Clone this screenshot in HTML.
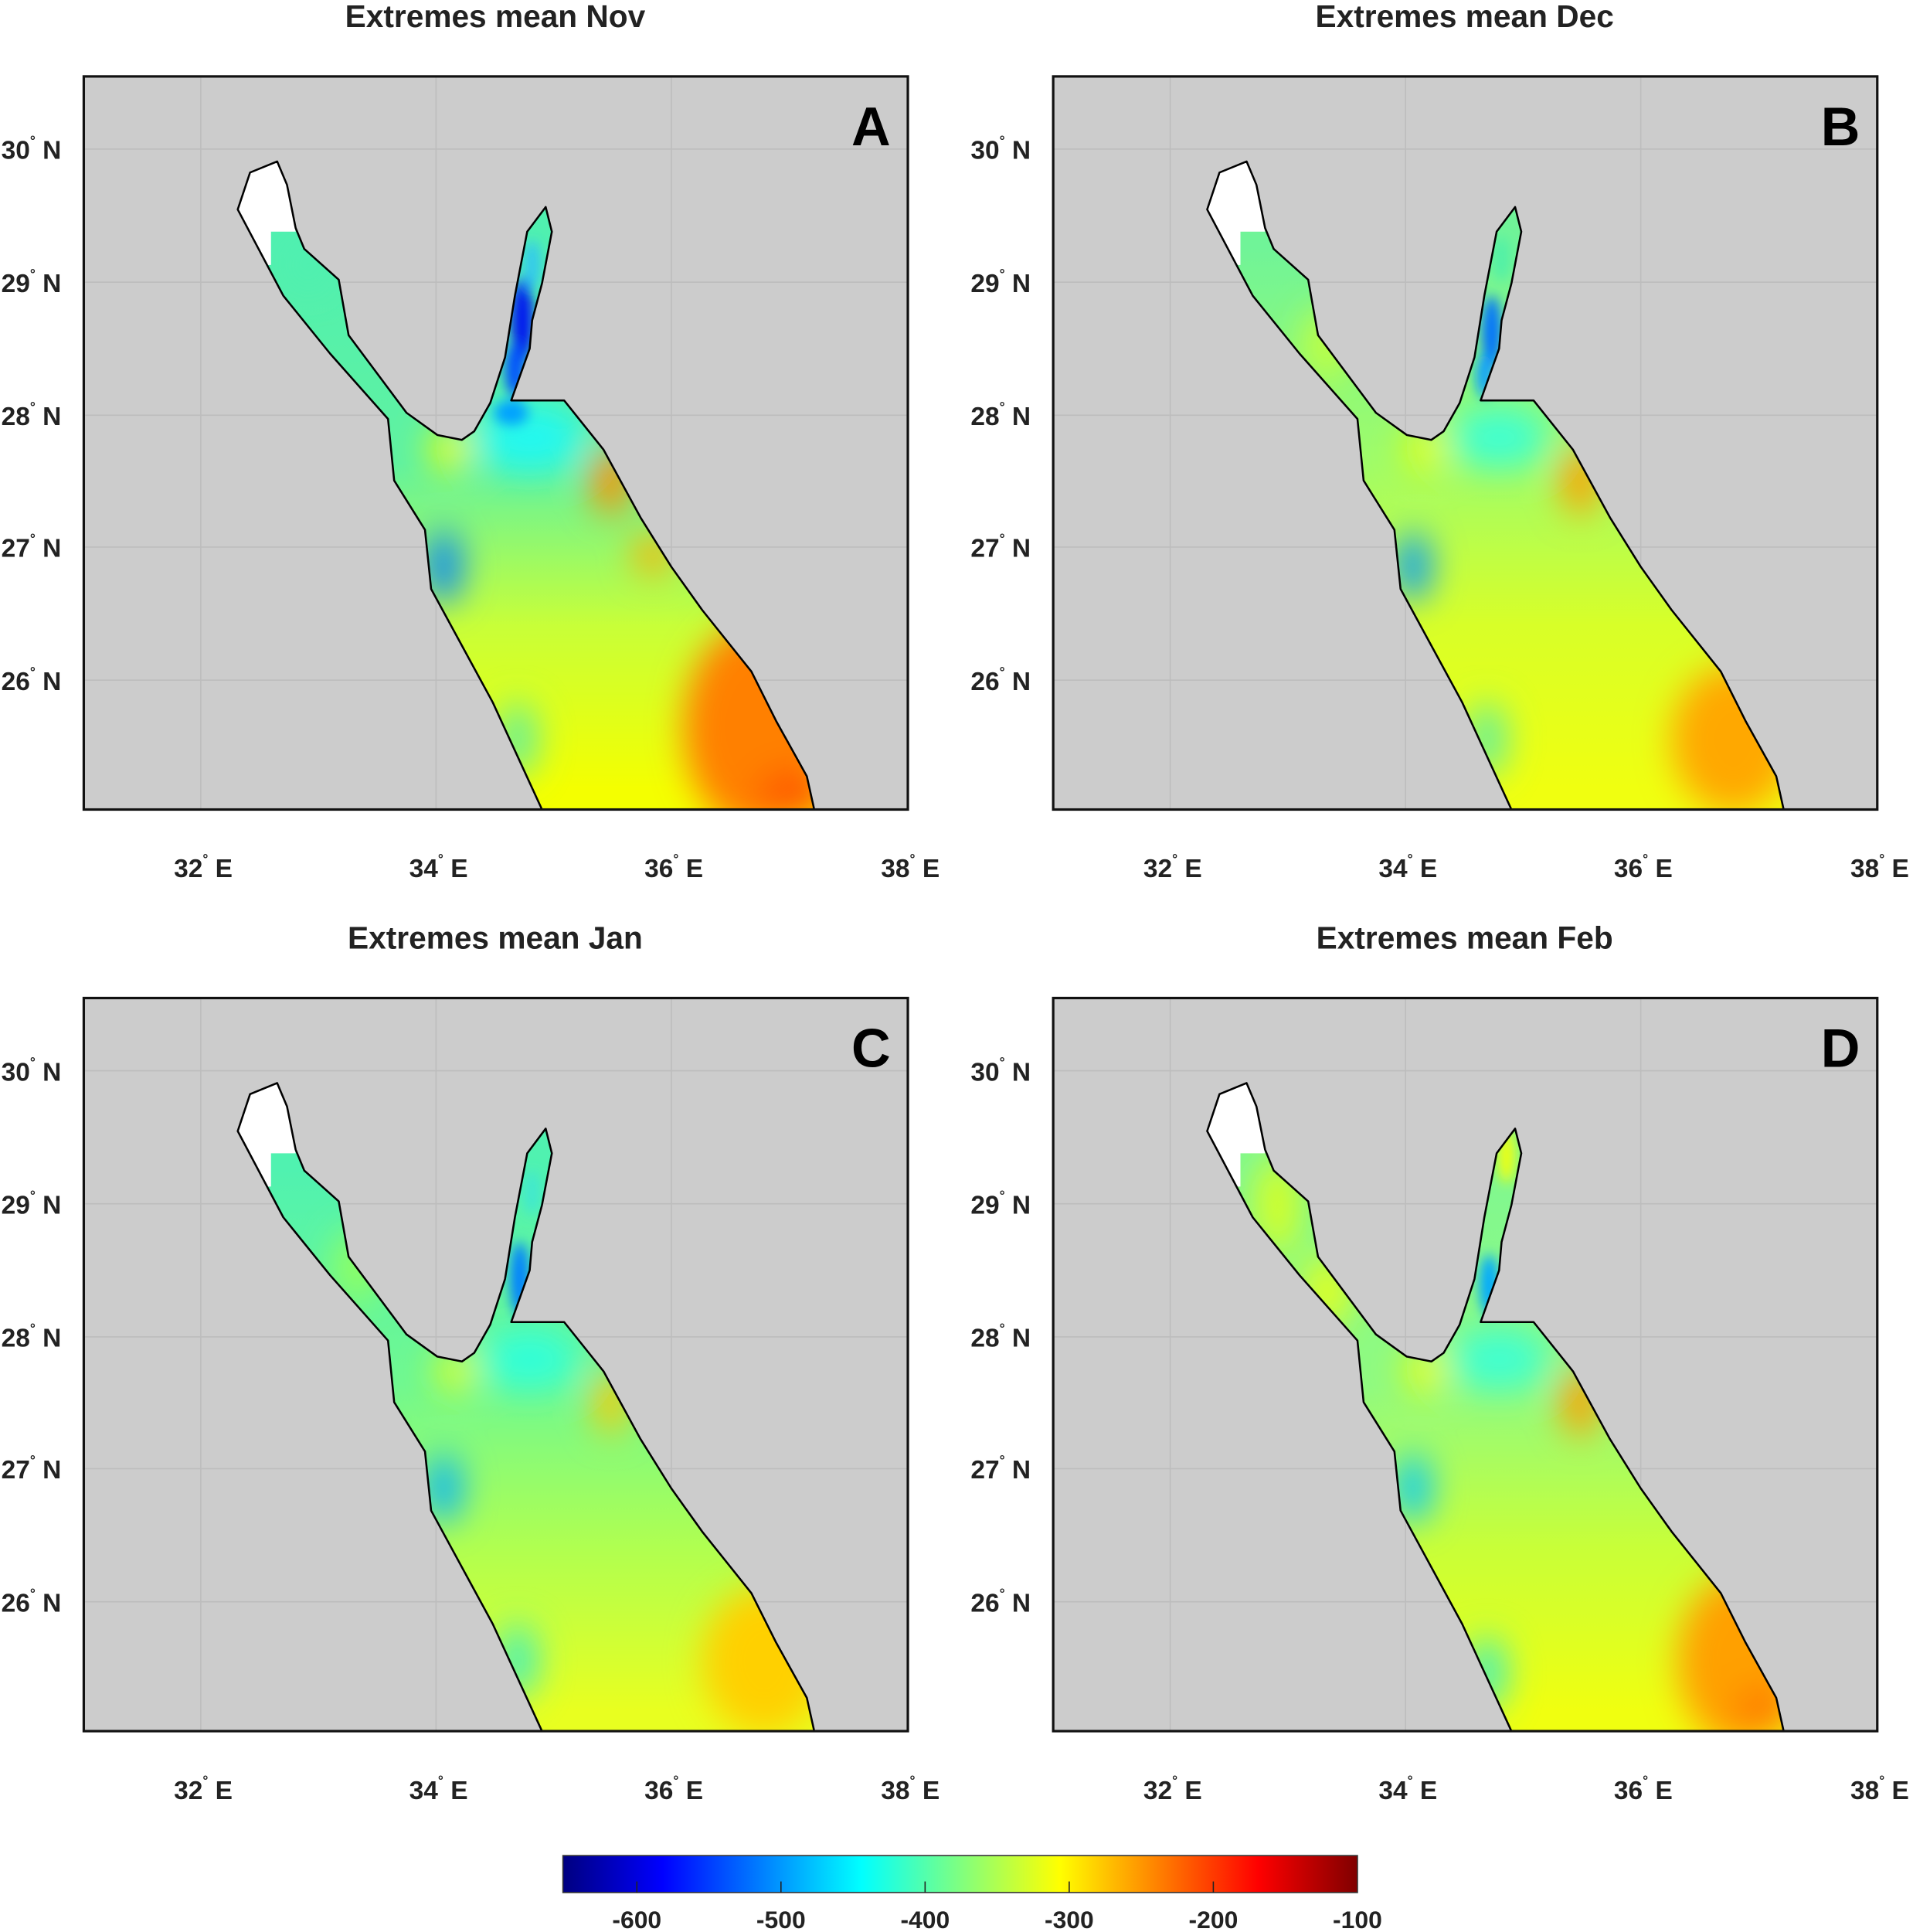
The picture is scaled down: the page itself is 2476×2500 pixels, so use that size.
<!DOCTYPE html>
<html><head><meta charset="utf-8">
<style>
html,body{margin:0;padding:0;background:#fff;}
svg{display:block;}
text{font-family:"Liberation Sans",Arial,sans-serif;font-weight:bold;fill:#222;}
</style></head>
<body>
<svg id="s" width="2476" height="2500" viewBox="0 0 1553 1568" xmlns="http://www.w3.org/2000/svg">
<defs>
<linearGradient id="jet" x1="0" x2="1" y1="0" y2="0">
<stop offset="0" stop-color="#000080"/><stop offset="0.125" stop-color="#0000ff"/>
<stop offset="0.375" stop-color="#00ffff"/><stop offset="0.625" stop-color="#ffff00"/>
<stop offset="0.875" stop-color="#ff0000"/><stop offset="1" stop-color="#800000"/>
</linearGradient>
<filter id="bl" x="-50%" y="-50%" width="200%" height="200%"><feGaussianBlur stdDeviation="14"/></filter>
<filter id="bl2" x="-50%" y="-50%" width="200%" height="200%"><feGaussianBlur stdDeviation="5"/></filter>
</defs>
<rect x="457" y="1506" width="645" height="30" fill="url(#jet)" stroke="#333" stroke-width="1"/>
<g font-size="20" text-anchor="middle">
<text x="517" y="1565">-600</text><text x="634" y="1565">-500</text><text x="751" y="1565">-400</text>
<text x="868" y="1565">-300</text><text x="985" y="1565">-200</text><text x="1102" y="1565">-100</text>
</g>
<g stroke="#222" stroke-width="1">
<line x1="517" y1="1527" x2="517" y2="1536"/><line x1="634" y1="1527" x2="634" y2="1536"/><line x1="751" y1="1527" x2="751" y2="1536"/><line x1="868" y1="1527" x2="868" y2="1536"/><line x1="985" y1="1527" x2="985" y2="1536"/>
</g>
</svg>
<script>
const S=document.getElementById('s');
const shape="M193,170 L203,140 L225,131 L233,150 L240,185 L247,202 L275,227 L283,272 L330,335 L355,353 L375,357 L385,350 L398,327 L410,290 L418,240 L428,188 L443,168 L448,188 L440,230 L432,260 L430,283 L415,325 L458,325 L490,365 L520,420 L545,460 L570,495 L610,545 L630,585 L655,630 L661,657 L440,657 L400,570 L350,478 L345,430 L320,390 L315,340 L268,287 L230,240 Z";
const whiteP="M193,170 L203,140 L225,131 L233,150 L240,188 L220,188 L220,215 L210,215 Z";
const panels=[
 {dx:0,dy:0,t:"Extremes mean Nov",L:"A",grad:["#50f0b0","#60f2a0","#c8ff38","#f4ff00"],
  blobs:[[430,355,45,28,"#20f8f0"],[360,460,14,30,"#0080ff"],[496,390,16,28,"#ff9000"],[530,450,16,16,"#ffb000"],[615,590,60,85,"#ff8000"],[645,645,30,20,"#ff5a00"],[365,365,16,18,"#f4ff00"],[420,600,16,30,"#60f0a0"],[250,215,14,20,"#50f0b0"]],
  sharp:[[424,260,9,35,"#0018f0"],[418,300,8,22,"#0050ff"],[432,215,7,20,"#30c8f0"],[415,335,14,10,"#00a0ff"]]},
 {dx:787,dy:0,t:"Extremes mean Dec",L:"B",grad:["#70f498","#a0fc68","#d8ff28","#f0ff10"],
  blobs:[[430,355,40,25,"#40ffd0"],[360,460,14,28,"#0098ff"],[496,390,16,28,"#ffa000"],[620,600,50,60,"#ffa800"],[370,365,16,18,"#e8ff10"],[420,600,16,30,"#60f0a0"],[290,280,20,30,"#c0ff40"]],
  sharp:[[424,270,8,30,"#0070ff"],[418,305,7,18,"#10a0ff"],[432,210,7,18,"#50f0a8"]]},
 {dx:0,dy:748,t:"Extremes mean Jan",L:"C",grad:["#50f2b0","#70f890","#b0ff50","#e8ff20"],
  blobs:[[430,355,40,25,"#30ffd8"],[360,460,14,28,"#00b0ff"],[496,390,14,26,"#ffc800"],[620,600,50,60,"#ffd000"],[370,365,16,18,"#e0ff20"],[420,600,16,30,"#40f0c0"],[290,280,20,30,"#90ff60"]],
  sharp:[[422,290,8,30,"#0080ff"],[432,220,7,18,"#40e8d0"]]},
 {dx:787,dy:748,t:"Extremes mean Feb",L:"D",grad:["#80f890","#90fa80","#c8ff38","#f0ff10"],
  blobs:[[430,355,40,25,"#40ffd0"],[360,460,14,28,"#00c8ff"],[496,390,16,28,"#ffa000"],[625,600,50,70,"#ffa000"],[645,640,25,20,"#ff8000"],[370,365,16,18,"#f0ff10"],[420,610,16,30,"#40f0c0"],[250,230,18,40,"#d8ff20"],[290,300,20,30,"#e0ff20"]],
  sharp:[[422,295,8,25,"#00a8ff"],[436,190,7,22,"#f0ff10"]]}
];
let h='';
panels.forEach((p,i)=>{
 const id='c'+i;
 h+=`<g transform="translate(${p.dx},${p.dy})">`;
 h+=`<text x="402" y="22" font-size="25.5" text-anchor="middle">${p.t}</text>`;
 h+=`<rect x="68" y="62" width="669" height="595" fill="#cccccc"/>`;
 [163,354,545].forEach(x=>h+=`<line x1="${x}" y1="62" x2="${x}" y2="657" stroke="#bdbdbd" stroke-width="1"/>`);
 [121,229,337,444,552].forEach(y=>h+=`<line x1="68" y1="${y}" x2="737" y2="${y}" stroke="#bdbdbd" stroke-width="1"/>`);
 h+=`<linearGradient id="g${i}" gradientUnits="userSpaceOnUse" x1="0" y1="200" x2="0" y2="640"><stop offset="0" stop-color="${p.grad[0]}"/><stop offset="0.4" stop-color="${p.grad[1]}"/><stop offset="0.7" stop-color="${p.grad[2]}"/><stop offset="1" stop-color="${p.grad[3]}"/></linearGradient>`;
 h+=`<clipPath id="${id}"><path d="${shape}"/></clipPath>`;
 h+=`<g clip-path="url(#${id})"><rect x="150" y="120" width="560" height="560" fill="url(#g${i})"/>`;
 h+=`<g filter="url(#bl)">`;
 p.blobs.forEach(b=>h+=`<ellipse cx="${b[0]}" cy="${b[1]}" rx="${b[2]}" ry="${b[3]}" fill="${b[4]}"/>`);
 h+=`</g><g filter="url(#bl2)">`;
 p.sharp.forEach(b=>h+=`<ellipse cx="${b[0]}" cy="${b[1]}" rx="${b[2]}" ry="${b[3]}" fill="${b[4]}"/>`);
 h+=`</g><path d="${whiteP}" fill="#fff"/></g>`;
 h+=`<path d="${shape}" fill="none" stroke="#000" stroke-width="1.6" stroke-linejoin="round"/>`;
 h+=`<rect x="68" y="62" width="669" height="595" fill="none" stroke="#111" stroke-width="2"/>`;
 h+=`<text x="723" y="118" font-size="44" text-anchor="end" style="fill:#000">${p.L}</text>`;
 [[30,121],[29,229],[28,337],[27,444],[26,552]].forEach(a=>h+=`<text x="1" y="${a[1]+8}" font-size="21">${a[0]}<tspan font-size="11" dy="-11">°</tspan><tspan dy="11"> N</tspan></text>`);
 [[32,163],[34,354],[36,545],[38,737]].forEach(a=>h+=`<text x="${a[1]+2}" y="712" font-size="21" text-anchor="middle">${a[0]}<tspan font-size="11" dy="-11">°</tspan><tspan dy="11"> E</tspan></text>`);
 h+=`</g>`;
});
S.insertAdjacentHTML('beforeend',h);
</script>
</body></html>
